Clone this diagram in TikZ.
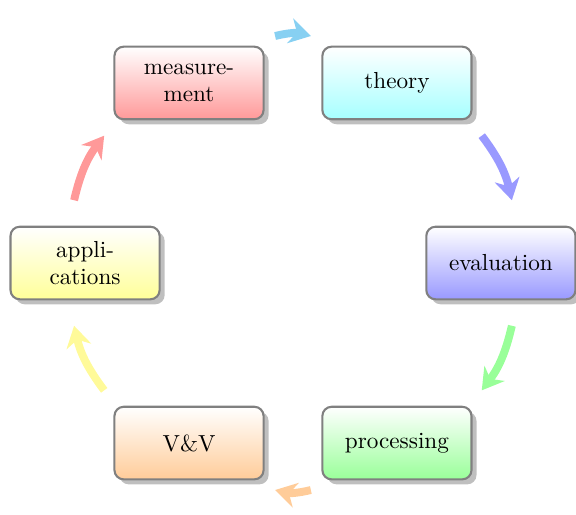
\documentclass[tikz,border=0pt]{standalone}
\usetikzlibrary{shadows,arrows.meta}

\definecolor{arrcyan}{RGB}{135,208,242}

\begin{document}
\begin{tikzpicture}[
  cycbox/.style={rectangle, draw=gray, line width=0.9pt, rounded corners=4pt, align=center, text width=2cm, minimum width=2.26cm, minimum height=1.1cm, top color=white, drop shadow},
  cycarrow/.style={line width=3.4pt, -{Stealth[length=0.32cm,width=0.38cm]}}]

\useasboundingbox (-4.439,-3.803) rectangle (4.288,3.985);

\node (meas) [cycbox, bottom color=red!40] at (120:3.15) {measure-\\ment};
\node (theo) [cycbox, bottom color=cyan!35] at (60:3.15) {theory};
\node (eval) [cycbox, bottom color=blue!40] at (0:3.15) {evaluation};
\node (proc) [cycbox, bottom color=green!40] at (-60:3.15) {processing};
\node (vv) [cycbox, bottom color=orange!40] at (-120:3.15) {V\&V};
\node (appl) [cycbox, bottom color=yellow!40] at (180:3.15) {appli-\\cations};

% ends of the arcs
\coordinate (m2t) at (94.5:3.45);  \coordinate (t2m) at (85.5:3.45);
\coordinate (t2e) at (34:3.45);  \coordinate (e2t) at (16:3.45);
\coordinate (e2p) at (-16:3.45); \coordinate (p2e) at (-34:3.45);
\coordinate (p2v) at (-85.5:3.45); \coordinate (v2p) at (-94.5:3.45);
\coordinate (v2a) at (-146:3.45); \coordinate (a2v) at (-164:3.45);
\coordinate (a2m) at (164:3.45); \coordinate (m2a) at (146:3.45);

\draw [cycarrow, arrcyan] (m2t) to[bend left=14] (t2m);
\draw [cycarrow, blue!40] (t2e) to[bend left=12] (e2t);
\draw [cycarrow, green!40] (e2p) to[bend left=12] (p2e);
\draw [cycarrow, orange!40] (p2v) to[bend left=14] (v2p);
\draw [cycarrow, yellow!40] (v2a) to[bend left=12] (a2v);
\draw [cycarrow, red!40] (a2m) to[bend left=12] (m2a);

\end{tikzpicture}
\end{document}
